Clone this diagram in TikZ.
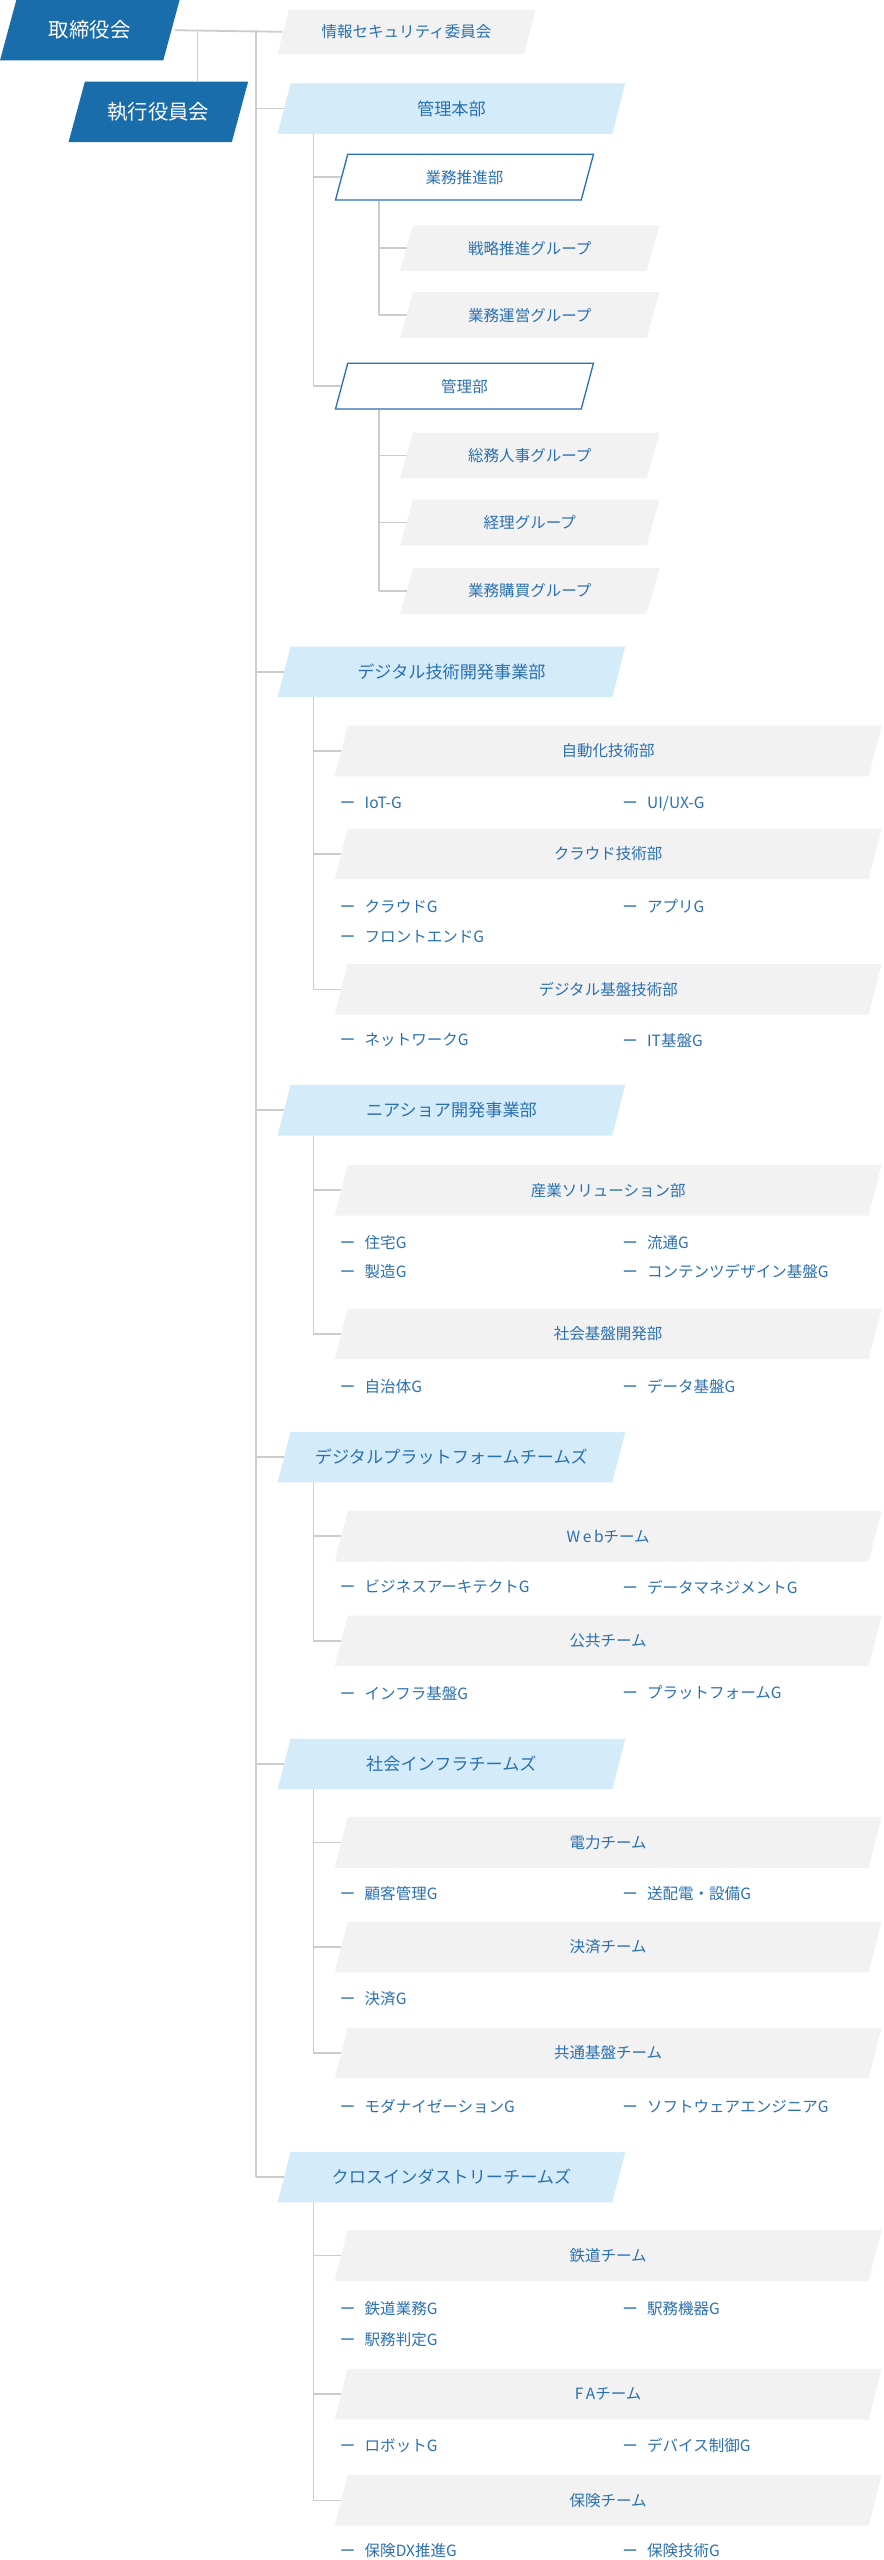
\documentclass[tikz,border=0pt]{standalone}
\usepackage{fontspec}
\setmainfont{Noto Sans CJK JP}
\definecolor{dblue}{HTML}{1A6DAB}
\definecolor{lblue}{HTML}{D4ECFA}
\definecolor{gbox}{HTML}{F2F2F2}
\definecolor{tblue}{HTML}{2A70B0}
\definecolor{lgray}{HTML}{CCCCCC}
\tikzset{
  pg/.style n args={2}{minimum width=#1pt, minimum height=#2pt, inner sep=0pt, outer sep=0pt, text=tblue, font=\fontsize{9.5}{11}\selectfont},
  pfill/.style n args={2}{path picture={\fill[#1] ([xshift=#2pt]path picture bounding box.north west) -- (path picture bounding box.north east) -- ([xshift=-#2pt]path picture bounding box.south east) -- (path picture bounding box.south west) -- cycle;}},
  pline/.style={path picture={\draw[tblue, line width=0.8pt, fill=white] ([xshift=8pt,yshift=-0.5pt]path picture bounding box.north west) -- ([xshift=-0.5pt,yshift=-0.5pt]path picture bounding box.north east) -- ([xshift=-8pt,yshift=0.5pt]path picture bounding box.south east) -- ([xshift=0.5pt,yshift=0.5pt]path picture bounding box.south west) -- cycle;}},
  top/.style={pg={110}{37}, pfill={dblue}{10}, text=white, font=\fontsize{12.5}{14}\selectfont},
  major/.style={pg={213}{31}, pfill={lblue}{8}, font=\fontsize{10.5}{12}\selectfont},
  mid/.style={pg={159}{29}, pline},
  grp/.style={pg={159}{28}, pfill={gbox}{8}},
  wide/.style={pg={335}{31}, pfill={gbox}{8}},
  item/.style={anchor=west, inner sep=0pt, text=tblue, font=\fontsize{9.5}{11}\selectfont},
  ln/.style={draw=lgray, line width=1.1pt},
}
\newcommand{\itm}[4]{\node[item] (#1) at (#2,#3) {ー\hspace{0.6em}#4};}
\begin{document}
\begin{tikzpicture}[x=1pt,y=-1pt]
\useasboundingbox (0,0) rectangle (541,1568);
\coordinate (s0) at (121,0);
\coordinate (s1) at (157,0);
\coordinate (s2) at (192,0);
\coordinate (s3) at (232,0);
% nodes
\node[top] (board) at (55,18.5) {取締役会};
\node[top] (exec) at (97,68.5) {執行役員会};
\node[pg={158}{27}, pfill={gbox}{7}] (sec) at (249,19.5) {情報セキュリティ委員会};
\node[major] (kanri) at (276.5,66.5) {管理本部};
\node[mid] (gyomu) at (284.5,108.5) {業務推進部};
\node[grp] (senryaku) at (324.5,152) {戦略推進グループ};
\node[grp] (unei) at (324.5,193) {業務運営グループ};
\node[mid] (kanribu) at (284.5,236.5) {管理部};
\node[grp] (somu) at (324.5,279) {総務人事グループ};
\node[grp] (keiri) at (324.5,320) {経理グループ};
\node[grp] (kobai) at (324.5,362) {業務購買グループ};
% digital
\node[major] (dig) at (276.5,411.5) {デジタル技術開発事業部};
\node[wide] (jido) at (372.5,460) {自動化技術部};
\itm{iot}{208}{492}{IoT-G}\itm{uiux}{381}{492}{UI/UX-G}
\node[wide] (cloud) at (372.5,523) {クラウド技術部};
\itm{cg}{208}{555}{クラウドG}\itm{app}{381}{555}{アプリG}
\itm{fe}{208}{574}{フロントエンドG}
\node[wide] (dkiban) at (372.5,606) {デジタル基盤技術部};
\itm{nw}{208}{637}{ネットワークG}\itm{itk}{381}{637}{IT基盤G}
% nearshore
\node[major] (near) at (276.5,680) {ニアショア開発事業部};
\node[wide] (sangyo) at (372.5,729) {産業ソリューション部};
\itm{jut}{208}{761}{住宅G}\itm{ryu}{381}{761}{流通G}
\itm{sei}{208}{779}{製造G}\itm{cont}{381}{779}{コンテンツデザイン基盤G}
\node[wide] (shakai) at (372.5,817) {社会基盤開発部};
\itm{jich}{208}{849}{自治体G}\itm{dk}{381}{849}{データ基盤G}
% dp
\node[major] (dp) at (276.5,892.5) {デジタルプラットフォームチームズ};
\node[wide] (web) at (372.5,941) {W\,e\,bチーム};
\itm{biz}{208}{972}{ビジネスアーキテクトG}\itm{dm}{381}{972}{データマネジメントG}
\node[wide] (koky) at (372.5,1005) {公共チーム};
\itm{inf}{208}{1037}{インフラ基盤G}\itm{pf}{381}{1037}{プラットフォームG}
% social infra
\node[major] (si) at (276.5,1080.5) {社会インフラチームズ};
\node[wide] (den) at (372.5,1128.5) {電力チーム};
\itm{kok}{208}{1160}{顧客管理G}\itm{soh}{381}{1160}{送配電・設備G}
\node[wide] (kes) at (372.5,1192.5) {決済チーム};
\itm{kesg}{208}{1224}{決済G}
\node[wide] (kyo) at (372.5,1257.5) {共通基盤チーム};
\itm{mod}{208}{1290}{モダナイゼーションG}\itm{sw}{381}{1290}{ソフトウェアエンジニアG}
% cross
\node[major] (cr) at (276.5,1333.5) {クロスインダストリーチームズ};
\node[wide] (tet) at (372.5,1381.5) {鉄道チーム};
\itm{tg}{208}{1414}{鉄道業務G}\itm{ek}{381}{1414}{駅務機器G}
\itm{eh}{208}{1433}{駅務判定G}
\node[wide] (fa) at (372.5,1466.5) {F\,Aチーム};
\itm{rob}{208}{1498}{ロボットG}\itm{dev}{381}{1498}{デバイス制御G}
\node[wide] (hok) at (372.5,1531.5) {保険チーム};
\itm{hdx}{208}{1562}{保険DX推進G}\itm{hg}{381}{1562}{保険技術G}
% connectors
\begin{scope}[on background layer/.style={}]
\end{scope}
\draw[ln] ([xshift=-3pt]board.east) -- ([xshift=3pt]sec.west);
\draw[ln] (board.east -| s0) -- (exec.north -| s0);
\draw[ln] (board.east -| s1) -- (cr.west -| s1);
\foreach \n in {kanri,dig,near,dp,si,cr}{\draw[ln] (\n.west -| s1) -- ([xshift=4pt]\n.west);}
\draw[ln] (kanri.south -| s2) -- (kanribu.west -| s2);
\foreach \n in {gyomu,kanribu}{\draw[ln] (\n.west -| s2) -- ([xshift=4pt]\n.west);}
\draw[ln] (gyomu.south -| s3) -- (unei.west -| s3);
\draw[ln] (kanribu.south -| s3) -- (kobai.west -| s3);
\foreach \n in {senryaku,unei,somu,keiri,kobai}{\draw[ln] (\n.west -| s3) -- ([xshift=4pt]\n.west);}
\draw[ln] (dig.south -| s2) -- (dkiban.west -| s2);
\draw[ln] (near.south -| s2) -- (shakai.west -| s2);
\draw[ln] (dp.south -| s2) -- (koky.west -| s2);
\draw[ln] (si.south -| s2) -- (kyo.west -| s2);
\draw[ln] (cr.south -| s2) -- (hok.west -| s2);
\foreach \n in {jido,cloud,dkiban,sangyo,shakai,web,koky,den,kes,kyo,tet,fa,hok}{\draw[ln] (\n.west -| s2) -- ([xshift=4pt]\n.west);}
\end{tikzpicture}
\end{document}
